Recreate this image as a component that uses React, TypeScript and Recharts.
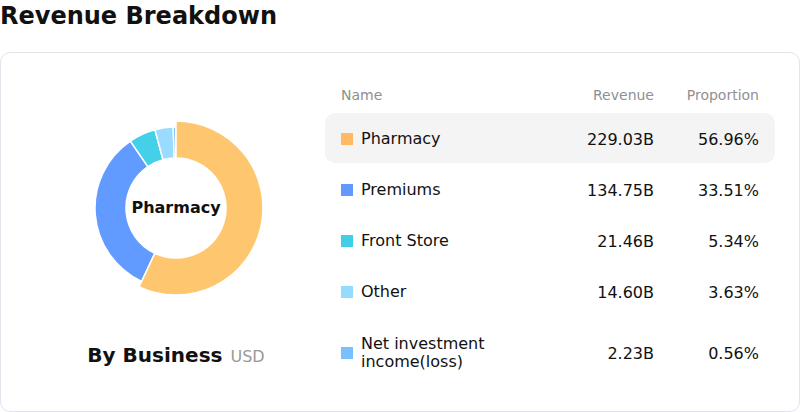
import React from "react";
import { PieChart, Pie, Cell } from "recharts";

const names = ["Pharmacy", "Premiums", "Front Store", "Other", "Net investment income(loss)"];
const revenue = [229.03, 134.75, 21.46, 14.6, 2.23];
const proportion = [56.96, 33.51, 5.34, 3.63, 0.56];
const pieColors = ["#FFC670", "#619BFF", "#44D0E8", "#99DCFF", "#78C0FF"];
const legendColors = ["#FFBA63", "#6199FF", "#40CFE6", "#95DBFF", "#78C0FF"];

const FONT = '"DejaVu Sans", sans-serif';

const rows = names.map((name, i) => ({
  name,
  value: revenue[i],
  pct: proportion[i],
}));

const rowTops = [113, 164, 215, 266, 317];
const rowHeights = [50, 50, 50, 50, 70];

export default function App() {
  return (
    <div style={{ position: "relative", width: 800, height: 412, fontFamily: FONT, background: "#fff" }}>
      <style>{`body{margin:0}`}</style>
      <div style={{ position: "absolute", left: 0, top: 2, fontSize: 24, fontWeight: 700, color: "#111", lineHeight: "28px" }}>
        Revenue Breakdown
      </div>
      <div
        style={{
          position: "absolute",
          left: 0,
          top: 52,
          width: 798,
          height: 358,
          border: "1px solid #e3e3ec",
          borderRadius: 10,
        }}
      />
      <div style={{ position: "absolute", left: 0, top: 52 }}>
        <PieChart width={352} height={312}>
          <Pie
            data={rows}
            dataKey="value"
            nameKey="name"
            cx={171}
            cy={151}
            innerRadius={50}
            outerRadius={81}
            startAngle={90}
            endAngle={-270}
            stroke="#fff"
            strokeWidth={1.5}
            isAnimationActive={false}
          >
            {rows.map((r, i) => (
              <Cell key={r.name} fill={pieColors[i]} />
            ))}
          </Pie>
          <Pie
            data={rows}
            dataKey="value"
            nameKey="name"
            cx={171}
            cy={151}
            innerRadius={50}
            outerRadius={87}
            startAngle={90}
            endAngle={-270}
            isAnimationActive={false}
          >
            {rows.map((r, i) => (
              <Cell
                key={r.name}
                fill={i === 0 ? pieColors[0] : "none"}
                stroke={i === 0 ? "#fff" : "none"}
                strokeWidth={1.5}
              />
            ))}
          </Pie>
          <text x={176} y={155} textAnchor="middle" dominantBaseline="central" fontFamily={FONT} fontSize={16} fontWeight={700} fill="#111">
            Pharmacy
          </text>
        </PieChart>
      </div>
      <div style={{ position: "absolute", left: 0, width: 352, top: 343, textAlign: "center", lineHeight: "24px" }}>
        <span style={{ fontSize: 20, fontWeight: 700, color: "#111" }}>By Business</span>
        <span style={{ fontSize: 16, color: "#999", marginLeft: 8 }}>USD</span>
      </div>

      {/* table header */}
      <div style={{ position: "absolute", top: 87, left: 341, fontSize: 14, color: "#909090", lineHeight: "16px" }}>Name</div>
      <div style={{ position: "absolute", top: 87, right: 800 - 654, fontSize: 14, color: "#909090", lineHeight: "16px" }}>Revenue</div>
      <div style={{ position: "absolute", top: 87, right: 800 - 759, fontSize: 14, color: "#909090", lineHeight: "16px" }}>Proportion</div>

      {rows.map((r, i) => (
        <div
          key={r.name}
          style={{
            position: "absolute",
            left: 325,
            width: 450,
            top: rowTops[i],
            height: rowHeights[i],
            background: i === 0 ? "#f4f4f4" : "transparent",
            borderRadius: 10,
            display: "flex",
            alignItems: "center",
            fontSize: 16,
            color: "#111",
          }}
        >
          <div style={{ width: 12, height: 12, background: legendColors[i], marginLeft: 16, flexShrink: 0, marginTop: 2 }} />
          <div style={{ marginLeft: 8, width: 150, lineHeight: "18px", paddingTop: 2 }}>{r.name}</div>
          <div style={{ position: "absolute", right: 775 - 654, textAlign: "right", paddingTop: 2 }}>{r.value.toFixed(2)}B</div>
          <div style={{ position: "absolute", right: 775 - 759, textAlign: "right", paddingTop: 2 }}>{r.pct.toFixed(2)}%</div>
        </div>
      ))}
    </div>
  );
}
